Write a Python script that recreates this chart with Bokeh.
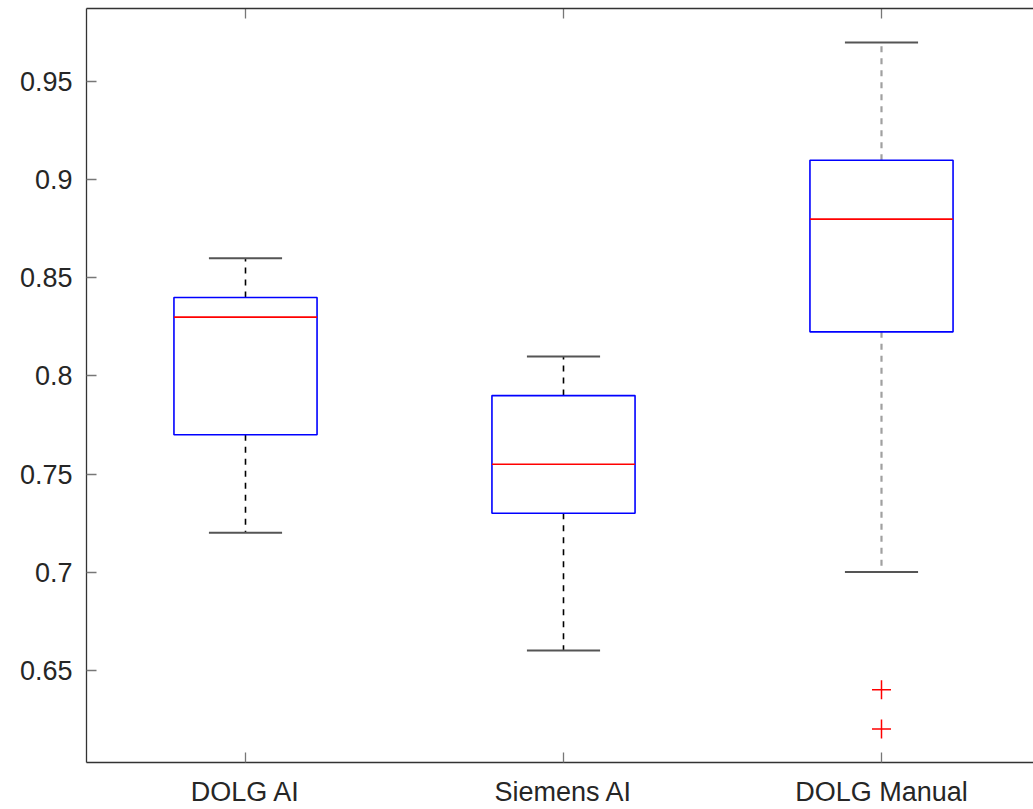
import numpy as np
from bokeh.plotting import figure
from bokeh.models import Range1d, FixedTicker, LinearAxis
from bokeh.embed import file_html
from bokeh.resources import INLINE

# ---- data ----
categories = ["DOLG AI", "Siemens AI", "DOLG Manual"]
whisker_low = [0.72, 0.66, 0.70]
q1 = [0.77, 0.73, 0.8225]
median = [0.83, 0.755, 0.88]
q3 = [0.84, 0.79, 0.91]
whisker_high = [0.86, 0.81, 0.97]
outlier_group = [3, 3]
outlier_value = [0.64, 0.62]
y_ticks = [0.65, 0.7, 0.75, 0.8, 0.85, 0.9, 0.95]
y_tick_labels = ["0.65", "0.7", "0.75", "0.8", "0.85", "0.9", "0.95"]

xs = np.arange(1, len(categories) + 1)
box_w = 0.45
cap_w = 0.23

FONT = "Liberation Sans"
TXT = "#262626"

y_lo, y_hi = 0.6029, 0.9874
p = figure(width=1033, height=809, output_backend="svg", toolbar_location=None,
           x_range=Range1d(0.5, 3.478), y_range=Range1d(y_lo, y_hi),
           min_border_left=86, min_border_right=0, min_border_top=8, min_border_bottom=47,
           x_axis_location=None, y_axis_location=None)
p.outline_line_color = None
p.grid.visible = False
p.background_fill_color = "white"
p.border_fill_color = "white"

# axes
xaxis = LinearAxis(ticker=FixedTicker(ticks=list(xs)),
                   major_label_overrides={int(x): c for x, c in zip(xs, categories)})
yaxis = LinearAxis(ticker=FixedTicker(ticks=y_ticks),
                   major_label_overrides={t: l for t, l in zip(y_ticks, y_tick_labels)})
top_axis = LinearAxis(ticker=FixedTicker(ticks=[]), major_label_standoff=0)
for ax in (xaxis, yaxis, top_axis):
    ax.axis_line_color = "#333333"
    ax.axis_line_width = 1.3
    ax.major_tick_line_color = "#777777"
    ax.major_tick_line_width = 1.3
    ax.major_tick_in = 10
    ax.major_tick_out = 0
    ax.minor_tick_line_color = None
    ax.major_label_text_font = FONT
    ax.major_label_text_color = TXT
xaxis.major_label_text_font_size = "27px"
yaxis.major_label_text_font_size = "27px"
xaxis.major_label_standoff = 14
yaxis.major_label_standoff = 14
p.add_layout(yaxis, "left")
p.add_layout(xaxis, "below")
p.add_layout(top_axis, "above")

xs_f = xs.astype(float)

# inward tick marks on the top edge (half of each dash is clipped by the frame)
p.scatter(x=xs_f, y=[y_hi] * len(xs), marker="dash", angle=np.pi / 2, size=20,
          line_color="#777777", line_width=1.3)

# whiskers
dash_colors = ["#000000", "#000000", "#a0a0a0"]
dash_widths = [1.6, 1.6, 2.2]
for i in range(len(xs)):
    p.segment(x0=[xs_f[i], xs_f[i]], y0=[q3[i], q1[i]], x1=[xs_f[i], xs_f[i]],
              y1=[whisker_high[i], whisker_low[i]],
              line_color=dash_colors[i], line_width=dash_widths[i], line_dash="6 6")

# caps
p.segment(x0=np.concatenate([xs_f - cap_w / 2, xs_f - cap_w / 2]),
          x1=np.concatenate([xs_f + cap_w / 2, xs_f + cap_w / 2]),
          y0=whisker_high + whisker_low, y1=whisker_high + whisker_low,
          line_color="#555555", line_width=2)

# boxes
p.vbar(x=xs_f, width=box_w, bottom=q1, top=q3, fill_color=None,
       line_color="#0000ff", line_width=1.6)

# medians
p.segment(x0=xs_f - box_w / 2, x1=xs_f + box_w / 2, y0=median, y1=median,
          line_color="#ff0000", line_width=1.6)

# outliers
p.scatter(x=outlier_group, y=outlier_value, marker="cross", size=19,
          line_color="#ff0000", line_width=1.5)

open("out.html", "w").write(file_html(p, INLINE))
